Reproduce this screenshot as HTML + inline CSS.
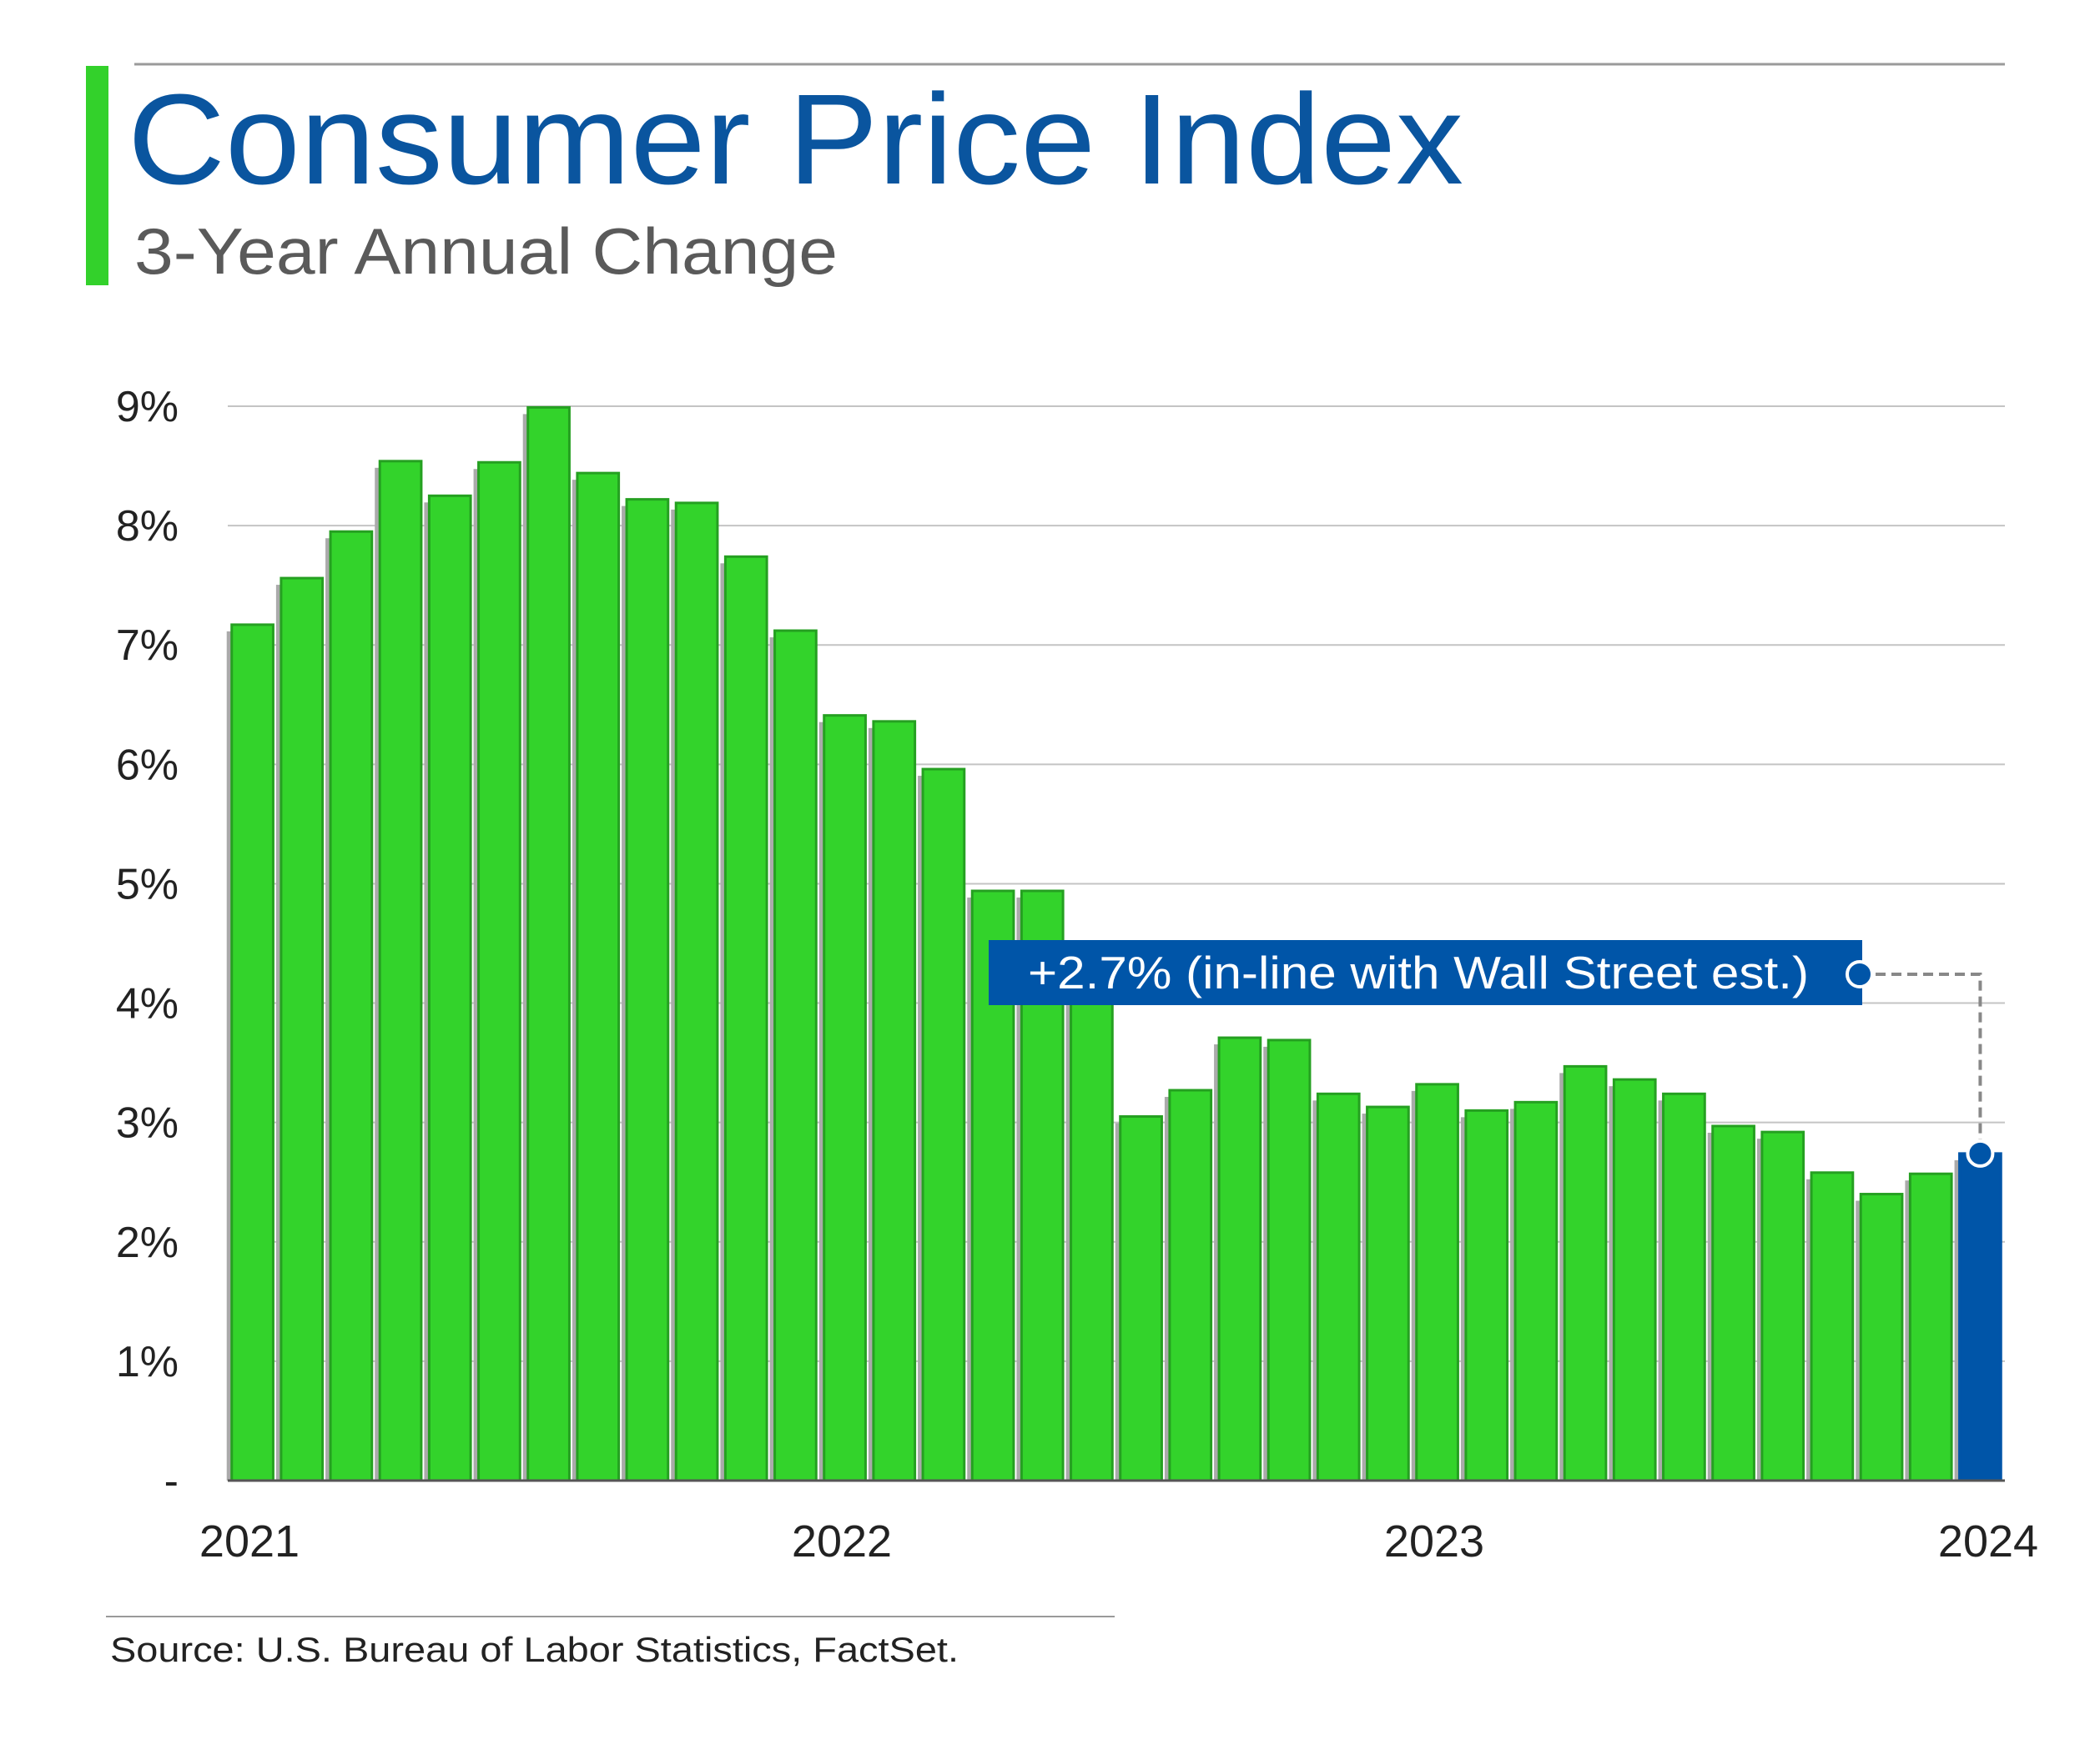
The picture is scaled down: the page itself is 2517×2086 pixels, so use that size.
<!DOCTYPE html>
<html><head><meta charset="utf-8"><style>
html,body{margin:0;padding:0;background:#fff;}
svg{display:block;font-family:"Liberation Sans",sans-serif;}
</style></head><body>
<svg id="chart" width="2517" height="2086" viewBox="0 0 2517 2086" xmlns="http://www.w3.org/2000/svg">
<line x1="161" y1="77" x2="2403" y2="77" stroke="#9a9a9a" stroke-width="3"/>
<rect x="103" y="79" width="27" height="263" fill="#33d12b"/>
<text x="153" y="220" font-size="154" fill="#0a559f" textLength="1601" lengthAdjust="spacingAndGlyphs">Consumer Price Index</text>
<text x="161" y="328" font-size="78" fill="#5a5a5a" textLength="843" lengthAdjust="spacingAndGlyphs">3-Year Annual Change</text>
<g id="grid"></g>
<g id="bars"></g>
<g id="axis"></g>
<g id="annot"></g>
<line x1="127" y1="1938" x2="1336" y2="1938" stroke="#9a9a9a" stroke-width="2"/>
<text x="132" y="1992" font-size="42" fill="#222" textLength="1017" lengthAdjust="spacingAndGlyphs">Source: U.S. Bureau of Labor Statistics, FactSet.</text>
</svg>
<script>
const values = [7.17,7.56,7.95,8.54,8.25,8.53,8.99,8.44,8.22,8.19,7.74,7.12,6.41,6.36,5.96,4.94,4.94,4.05,3.05,3.27,3.71,3.69,3.24,3.13,3.32,3.10,3.17,3.47,3.36,3.24,2.97,2.92,2.58,2.40,2.57,2.74];
const yTicks = [0,1,2,3,4,5,6,7,8,9];
const yTickLabels = ["-","1%","2%","3%","4%","5%","6%","7%","8%","9%"];
const xYearLabels = ["2021","2022","2023","2024"];
const xYearIndex = [0,12,24,36];
const annotationText = "+2.7% (in-line with Wall Street est.)";

const NS="http://www.w3.org/2000/svg";
const X0=273, X1=2403, Y0=1775, Y9=487;
const n=values.length, pitch=(X1-X0)/n;
function y(v){return Y0-(Y0-Y9)*v/9;}
function xc(i){return X0+pitch*(i+0.5);}
function mk(tag,attrs,parent){const e=document.createElementNS(NS,tag);for(const k in attrs)e.setAttribute(k,attrs[k]);parent.appendChild(e);return e;}
const grid=document.getElementById('grid'),bars=document.getElementById('bars'),axis=document.getElementById('axis'),annot=document.getElementById('annot');
yTicks.forEach((t,i)=>{
  if(t>0){const l=mk('line',{x1:X0,x2:X1,y1:y(t),y2:y(t),stroke:'#c4c4c4','stroke-width':2},grid);
  
  }
  const tx=mk('text',{x:214,y:y(t)+18,'font-size':52,'text-anchor':'end',fill:'#222'},axis);
  tx.textContent=yTickLabels[i];
  
  
});
const bw=pitch*0.84;
values.forEach((v,i)=>{
  const last=i===n-1;
  const left=xc(i)-bw/2;
  const sh=mk('rect',{x:left-6,y:y(v)+8,width:bw,height:Y0-y(v)-8,fill:'#aaaaaa'},bars);
  
  
  const r=mk('rect',{x:left,y:y(v),width:bw,height:Y0-y(v),fill:last?'#0055a8':'#33d32b',stroke:last?'#0055a8':'#25a021','stroke-width':3},bars);
  
  
});
const base=mk('line',{x1:X0,x2:X1,y1:Y0,y2:Y0,stroke:'#555','stroke-width':3},axis);


xYearLabels.forEach((s,i)=>{
  const cx=Math.min(X0+pitch*xYearIndex[i]+26,2383);
  const t=mk('text',{x:cx,y:1866,'font-size':54,'text-anchor':'middle',fill:'#222'},axis);
  t.textContent=s;
  
  
});
const lx=xc(n-1), ly=y(values[n-1]);
const box=mk('rect',{x:1185,y:1127,width:1047,height:78,fill:'#0055a8'},annot);


const at=mk('text',{x:1232,y:1185,'font-size':55,fill:'#fff',textLength:936,lengthAdjust:'spacingAndGlyphs'},annot);
at.textContent=annotationText;


const dl=mk('path',{d:`M2229 1168 H${lx} V${ly}`,fill:'none',stroke:'#888','stroke-width':4,'stroke-dasharray':'12 7'},annot);


[[2229,1168],[lx,ly]].forEach(p=>{
  const c=mk('circle',{cx:p[0],cy:p[1],r:15,fill:'#0055a8',stroke:'#fff','stroke-width':4},annot);
  
  
});
</script>
</body></html>
